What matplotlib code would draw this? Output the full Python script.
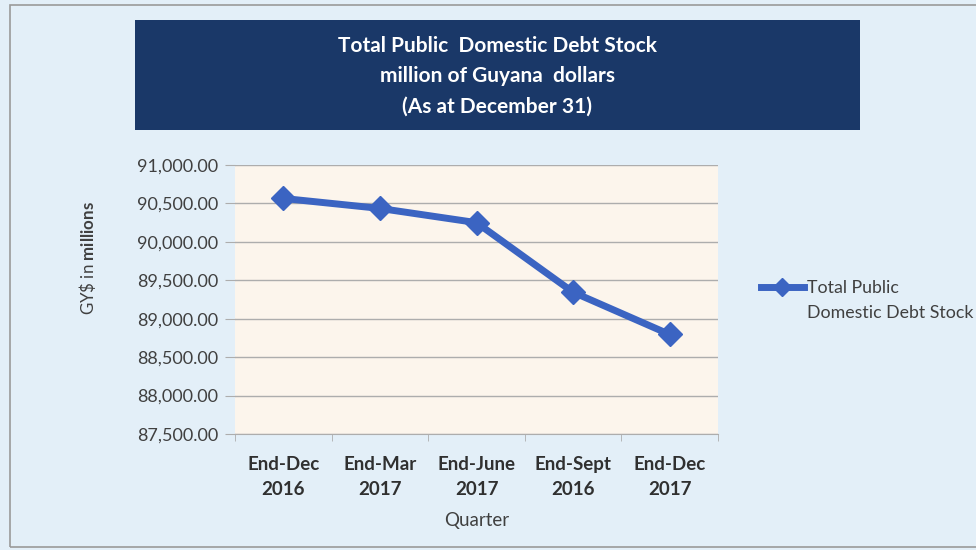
import matplotlib.pyplot as plt
from matplotlib.patches import Rectangle
from matplotlib.ticker import FuncFormatter, FixedLocator

plt.rcParams['font.family'] = ['Lato', 'DejaVu Sans']
plt.rcParams['mathtext.fontset'] = 'custom'
plt.rcParams['mathtext.rm'] = 'Lato'
plt.rcParams['mathtext.bf'] = 'Lato:bold'

quarters = ['End-Dec\n2016', 'End-Mar\n2017', 'End-June\n2017', 'End-Sept\n2016', 'End-Dec\n2017']
debt_stock = [90565, 90435, 90250, 89345, 88795]
y_ticks = [87500, 88000, 88500, 89000, 89500, 90000, 90500, 91000]
series_name = ['Total Public', 'Domestic Debt Stock']

bg = '#e3eff8'
navy = '#1a3868'
line_blue = '#3b64c2'
grid_grey = '#adadad'
text_grey = '#404040'

fig = plt.figure(figsize=(9.76, 5.5), dpi=100, facecolor=bg)

# outer frame and title banner
fig.patches.append(Rectangle((10 / 976, 0.006), 1.0, 0.985, transform=fig.transFigure,
                             facecolor='none', edgecolor='#9a9a9a', linewidth=1.2))
fig.patches.append(Rectangle((135 / 976, 1 - 130 / 550), 725 / 976, 110 / 550,
                             transform=fig.transFigure, facecolor=navy, edgecolor='none'))
fig.text(497 / 976, 1 - 76 / 550,
         'Total Public  Domestic Debt Stock\nmillion of Guyana  dollars\n(As at December 31)',
         ha='center', va='center', color='white', fontsize=15, fontweight='bold',
         linespacing=1.65)

ax = fig.add_axes([235 / 976, 1 - 434 / 550, 483 / 976, 269 / 550])
ax.set_facecolor('#fcf5ec')

x = list(range(len(quarters)))
ax.plot(x, debt_stock, color=line_blue, linewidth=5, marker='D', markersize=12,
        label=series_name[0])

ax.set_xlim(-0.5, len(quarters) - 0.5)
ax.set_ylim(y_ticks[0], y_ticks[-1])
ax.set_yticks(y_ticks)
ax.yaxis.set_major_formatter(FuncFormatter(lambda v, p: f'{v:,.2f}'))
ax.set_xticks(x)
ax.set_xticklabels(quarters, fontweight='bold', color='#303030', fontsize=13.5, linespacing=1.55)
ax.xaxis.set_minor_locator(FixedLocator([i - 0.5 for i in range(len(quarters) + 1)]))
ax.tick_params(axis='x', which='major', length=0, pad=16)
ax.tick_params(axis='x', which='minor', length=5, color=grid_grey, direction='out')
ax.tick_params(axis='y', length=7, color=grid_grey, labelsize=13, labelcolor=text_grey, pad=5)

ax.grid(axis='y', color=grid_grey, linewidth=1)
ax.set_axisbelow(True)
for side in ['top', 'right', 'left']:
    ax.spines[side].set_visible(False)
ax.spines['bottom'].set_color(grid_grey)

ax.set_xlabel('Quarter', fontsize=13.5, color=text_grey)
ax.xaxis.set_label_coords(0.5, -0.29)
ax.set_ylabel(r'GY\$ in $\mathbf{millions}$', fontsize=12.2, color=text_grey)
ax.yaxis.set_label_coords(-0.284, 0.654)

leg = fig.legend(loc='center left', bbox_to_anchor=(752 / 976, 1 - 288 / 550), frameon=False,
                 fontsize=12.8, handlelength=2.4, handletextpad=0.2, labelcolor=text_grey,
                 borderpad=0, markerscale=0.8)

# second line of the legend label, aligned under the first
fig.canvas.draw()
inv = fig.transFigure.inverted()
x0 = inv.transform(leg.get_texts()[0].get_window_extent().p0)[0]
fig.text(x0, 1 - 313 / 550, series_name[1], ha='left', va='center', fontsize=12.8, color=text_grey)

fig.savefig('out.png', dpi=100, facecolor=bg)
